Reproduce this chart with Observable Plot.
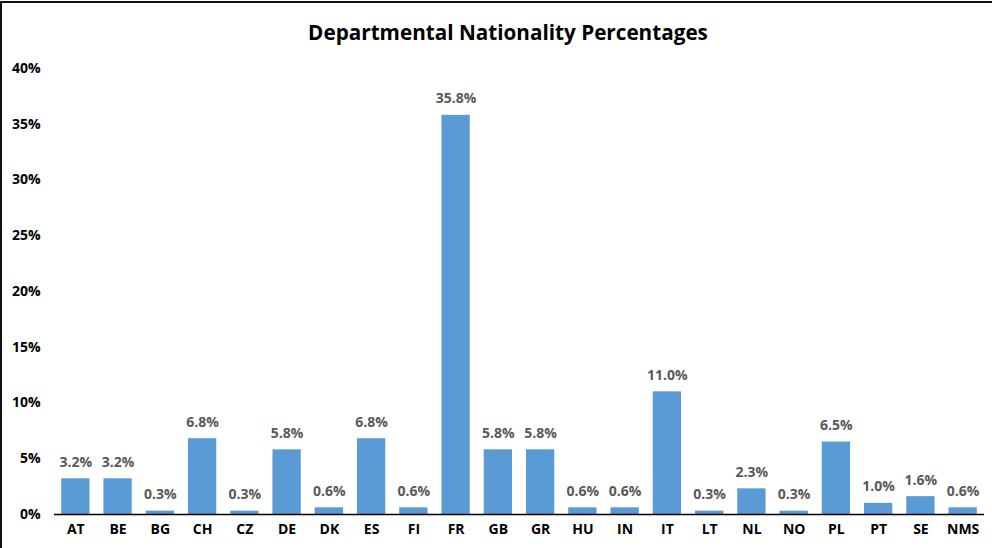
<!DOCTYPE html>
<html>
<head>
<meta charset="utf-8">
<script src="https://cdn.jsdelivr.net/npm/d3@7"></script>
<script src="https://cdn.jsdelivr.net/npm/@observablehq/plot@0.6"></script>
<style>
  html, body { margin: 0; padding: 0; background: #fff; }
  #wrap { position: relative; width: 992px; height: 548px; overflow: hidden; background: #fff; }
  #frame { position: absolute; left: 0; top: 1px; width: 992px; height: 560px; border-left: 2px solid #111; border-top: 2px solid #111; box-sizing: border-box; pointer-events: none; }
  #title { position: absolute; left: 0; width: 1016px; top: 18px; text-align: center; font-family: "Open Sans", sans-serif; font-weight: bold; font-size: 20.7px; color: #000; }
  #chart { position: absolute; left: 0; top: 0; }
</style>
</head>
<body>
<div id="wrap">
  <div id="chart"></div>
  <div id="title">Departmental Nationality Percentages</div>
  <div id="frame"></div>
</div>
<script>
const categories = ["AT","BE","BG","CH","CZ","DE","DK","ES","FI","FR","GB","GR","HU","IN","IT","LT","NL","NO","PL","PT","SE","NMS"];
const values = [3.2,3.2,0.3,6.8,0.3,5.8,0.6,6.8,0.6,35.8,5.8,5.8,0.6,0.6,11.0,0.3,2.3,0.3,6.5,1.0,1.6,0.6];
const yTicks = [0,5,10,15,20,25,30,35,40];

const data = categories.map((c, i) => ({cat: c, val: values[i] / 100}));

const chart = Plot.plot({
  width: 992,
  height: 548,
  marginLeft: 54,
  marginRight: 8,
  marginTop: 68,
  marginBottom: 34,
  style: {fontFamily: "'Open Sans', sans-serif", background: "#fff", overflow: "visible"},
  x: {domain: categories, paddingInner: 0.33, paddingOuter: 0.17, round: false, label: null, tickSize: 0, tickPadding: 10},
  y: {domain: [0, 0.4], ticks: yTicks.map(t => t / 100), tickFormat: d3.format(".0%"), label: null, tickSize: 0, tickPadding: 14},
  marks: [
    Plot.barY(data, {x: "cat", y: "val", fill: "#5B9BD5"}),
    Plot.ruleY([0], {stroke: "#000", strokeWidth: 1.3}),
    Plot.text(data, {x: "cat", y: "val", text: d => (d.val * 100).toFixed(1) + "%", lineAnchor: "bottom", dy: -12, fill: "#595959", fontWeight: "bold", fontSize: 14}),
    Plot.axisY({ticks: yTicks.map(t => t / 100), tickFormat: d3.format(".0%"), tickSize: 0, tickPadding: 14, fontSize: 14, fontWeight: "bold", fill: "#000", label: null}),
    Plot.axisX({tickSize: 0, tickPadding: 10, fontSize: 14, fontWeight: "bold", fill: "#000", label: null})
  ]
});
document.getElementById("chart").appendChild(chart);
</script>
</body>
</html>
